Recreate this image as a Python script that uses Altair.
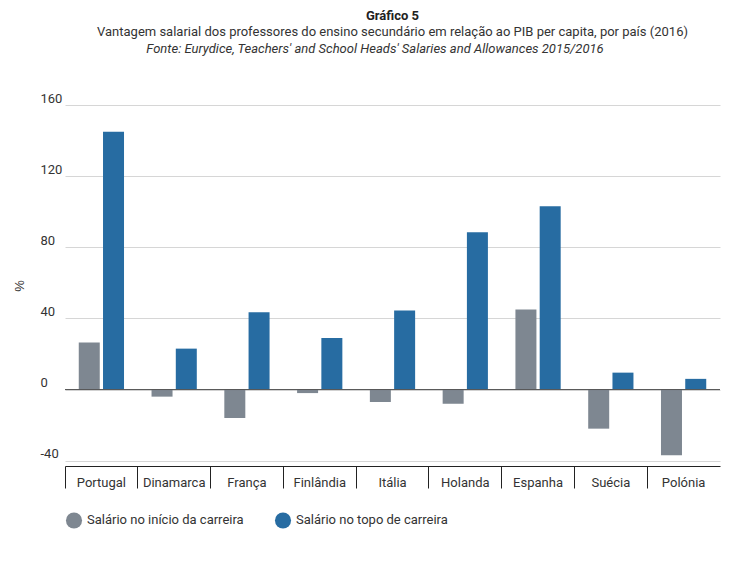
import altair as alt
import pandas as pd

countries = ["Portugal", "Dinamarca", "França", "Finlândia", "Itália",
             "Holanda", "Espanha", "Suécia", "Polónia"]
inicio = [26.5, -4, -16, -2, -7, -8, 45, -22, -37]
topo = [145, 23, 43.5, 29, 44.5, 88.5, 103, 9.5, 6]
series = ["Salário no início da carreira", "Salário no topo de carreira"]

rows = []
for c, a, b in zip(countries, inicio, topo):
    rows.append({"pais": c, "serie": series[0], "valor": a})
    rows.append({"pais": c, "serie": series[1], "valor": b})
df = pd.DataFrame(rows)

FONT = "Roboto"

bars = alt.Chart(df).mark_bar(width=21).encode(
    x=alt.X("pais:N", sort=countries, title=None,
            scale=alt.Scale(paddingInner=0, paddingOuter=0),
            axis=alt.Axis(bandPosition=0, tickSize=22, tickColor="#222", domainColor="#222",
                          labelAngle=0, labelPadding=-12, labelFontSize=13, labelColor="#333",
                          labelFont=FONT, grid=False)),
    xOffset=alt.XOffset("serie:N", sort=series,
                        scale=alt.Scale(paddingInner=0.1, paddingOuter=0.55)),
    y=alt.Y("valor:Q", title="%",
            scale=alt.Scale(domain=[-43, 160], nice=False),
            axis=alt.Axis(values=[-40, -20, 0, 20, 40, 60, 80, 100, 120, 140, 160],
                          labelExpr="toString(datum.value)", labelOverlap=False,
                          labelAlign="left", labelBaseline="bottom", labelPadding=25,
                          labelFontSize=13, labelColor="#333", labelFont=FONT,
                          ticks=False, domain=False, gridColor="#d6d6d6",
                          titleFontSize=13, titleFontWeight="normal", titleColor="#333",
                          titleAngle=-90, titlePadding=14)),
    color=alt.Color("serie:N", sort=series, title=None,
                    scale=alt.Scale(domain=series, range=["#7e8791", "#276ca2"]),
                    legend=alt.Legend(orient="bottom", symbolType="circle", symbolSize=260,
                                      labelFontSize=13, labelColor="#333", labelFont=FONT,
                                      columnPadding=30, offset=22)),
)

zero = alt.Chart(pd.DataFrame({"y": [0]})).mark_rule(color="#555", strokeWidth=1).encode(y="y:Q")

source = alt.Chart(pd.DataFrame({"t": ["Fonte: Eurydice, Teachers' and School Heads' Salaries and Allowances 2015/2016"]})).mark_text(
    fontStyle="italic", font=FONT, fontSize=13, color="#333"
).encode(text="t:N", x=alt.value(310), y=alt.value(-56))

chart = alt.layer(bars, zero, source).properties(
    width=655, height=361,
    title=alt.TitleParams("Gráfico 5",
                          subtitle="Vantagem salarial dos professores do ensino secundário em relação ao PIB per capita, por país (2016)",
                          font=FONT, fontSize=13, fontWeight="bold", color="#222",
                          subtitleFont=FONT, subtitleFontSize=13, subtitleColor="#333",
                          anchor="middle", offset=4),
    padding={"left": 5, "top": 2, "right": 10, "bottom": 0},
).configure_view(strokeOpacity=0)

chart.save("out.html", embed_options={"renderer": "svg", "actions": False})
